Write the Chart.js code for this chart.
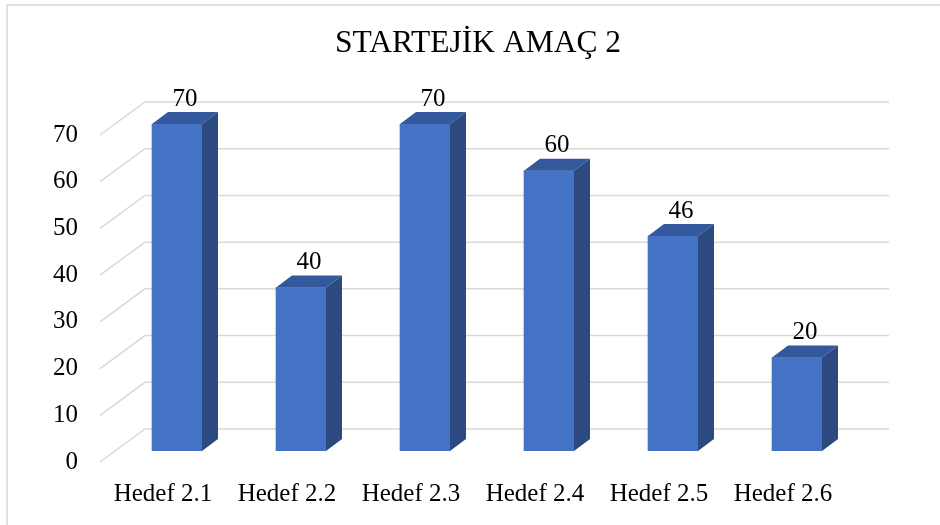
<!DOCTYPE html>
<html>
<head>
<meta charset="utf-8">
<script src="https://cdn.jsdelivr.net/npm/chart.js@4.4.1/dist/chart.umd.min.js"></script>
<style>
  body { margin: 0; background: #fff; }
</style>
</head>
<body>
<canvas id="grafico" width="940" height="525"></canvas>
<script>
const hedefler = ['Hedef 2.1', 'Hedef 2.2', 'Hedef 2.3', 'Hedef 2.4', 'Hedef 2.5', 'Hedef 2.6'];
const degerler = [70, 35, 70, 60, 46, 20];
const etiketler = ['70', '40', '70', '60', '46', '20'];
const eksenMax = 70;
const eksenAdim = 10;

const ctx = document.getElementById('grafico');

// 3d gorunum icin kaydirmalar
const derinlik = { dx: 16, dy: -12 };
const duvar = { dx: 30, dy: -22 };
const on = { dx: -15, dy: 11 };

const yazi = 'Liberation Serif, "Times New Roman", serif';

const kutu3d = {
    id: 'kutu3d',
    beforeDraw: (chart) => {
        const c = chart.ctx;
        c.save();
        c.fillStyle = '#fff';
        c.fillRect(0, 0, chart.width, chart.height);
        c.strokeStyle = '#d9d9d9';
        c.lineWidth = 1.5;
        c.strokeRect(7, 5, 1000, 1000);
        c.restore();
    },
    beforeDatasetsDraw: (chart) => {
        const c = chart.ctx;
        const alan = chart.chartArea;
        const y = chart.scales.y;
        c.save();
        c.strokeStyle = '#d9d9d9';
        c.lineWidth = 1.5;
        y.ticks.forEach(t => {
            const py = y.getPixelForValue(t.value);
            c.beginPath();
            c.moveTo(alan.left + on.dx, py + on.dy);
            c.lineTo(alan.left + duvar.dx, py + duvar.dy);
            c.lineTo(alan.right + duvar.dx, py + duvar.dy);
            c.stroke();
        });
        c.restore();
    },
    afterDatasetsDraw: (chart) => {
        const c = chart.ctx;
        const meta = chart.getDatasetMeta(0);
        c.save();
        meta.data.forEach((bar, i) => {
            const sol = bar.x - bar.width / 2;
            const sag = bar.x + bar.width / 2;
            // ust yuz
            c.fillStyle = '#34589c';
            c.beginPath();
            c.moveTo(sol, bar.y);
            c.lineTo(sol + derinlik.dx, bar.y + derinlik.dy);
            c.lineTo(sag + derinlik.dx, bar.y + derinlik.dy);
            c.lineTo(sag, bar.y);
            c.closePath();
            c.fill();
            // yan yuz
            c.fillStyle = '#2c4a80';
            c.beginPath();
            c.moveTo(sag, bar.y);
            c.lineTo(sag + derinlik.dx, bar.y + derinlik.dy);
            c.lineTo(sag + derinlik.dx, bar.base + derinlik.dy);
            c.lineTo(sag, bar.base);
            c.closePath();
            c.fill();
            // deger etiketi
            c.fillStyle = '#000';
            c.font = '25px ' + yazi;
            c.textAlign = 'center';
            c.textBaseline = 'middle';
            c.fillText(etiketler[i], bar.x + derinlik.dx / 2, bar.y - 25);
        });
        c.restore();
    }
};

new Chart(ctx, {
    type: 'bar',
    data: {
        labels: hedefler,
        datasets: [{
            label: 'STARTEJİK AMAÇ 2',
            data: degerler,
            backgroundColor: '#4472c4',
            borderWidth: 0,
            barThickness: 50,
        }]
    },
    options: {
        responsive: false,
        maintainAspectRatio: false,
        animation: false,
        layout: {
            padding: { left: 16, right: 0, top: 5, bottom: 0 }
        },
        plugins: {
            legend: { display: false },
            tooltip: { enabled: false },
            title: {
                display: true,
                text: 'STARTEJİK AMAÇ 2',
                color: '#000',
                font: { family: yazi, size: 31.5, weight: 'normal' },
                padding: { top: 20, bottom: 61.2 }
            }
        },
        scales: {
            x: {
                grid: { display: false, drawTicks: false },
                border: { display: false },
                ticks: {
                    color: '#000',
                    font: { family: yazi, size: 25 },
                    padding: 28,
                    labelOffset: -14,
                    maxRotation: 0,
                    autoSkip: false
                },
                afterFit: (scale) => { scale.height = 74; }
            },
            y: {
                min: 0,
                max: eksenMax,
                grid: { display: false, drawTicks: false },
                border: { display: false },
                ticks: {
                    stepSize: eksenAdim,
                    color: '#000',
                    font: { family: yazi, size: 25 },
                    padding: 37,
                    labelOffset: 11
                },
                afterFit: (scale) => { scale.width = 99; }
            },
            // sag bosluk icin bos eksen
            bos: {
                position: 'right',
                grid: { display: false, drawTicks: false },
                border: { display: false },
                ticks: { display: false },
                afterFit: (scale) => { scale.width = 81; }
            }
        }
    },
    plugins: [kutu3d]
});
</script>
</body>
</html>
